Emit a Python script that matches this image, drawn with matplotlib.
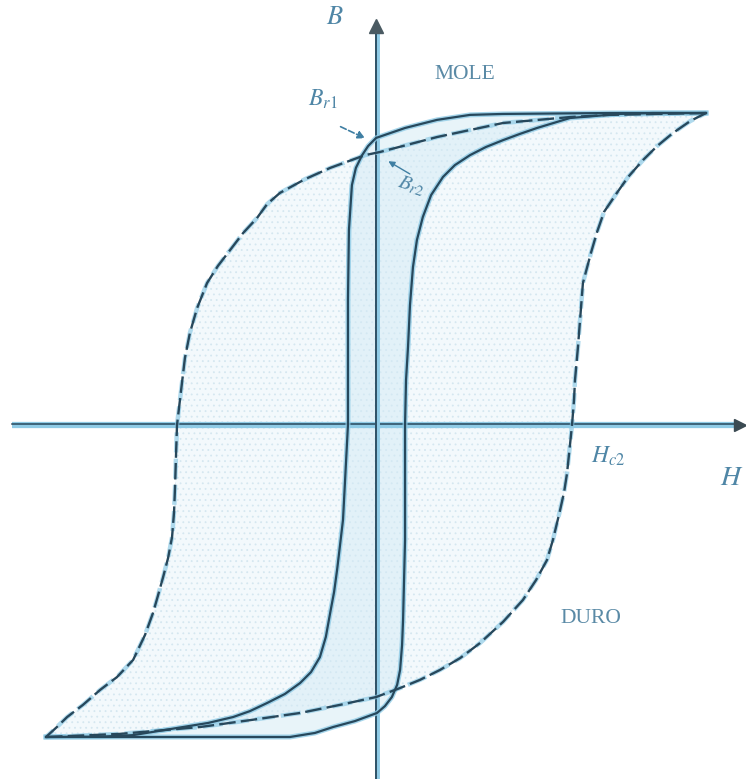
import matplotlib
matplotlib.use("Agg")
import matplotlib.pyplot as plt

plt.rcParams["mathtext.fontset"] = "stix"
plt.rcParams["font.family"] = ["Liberation Serif", "DejaVu Serif"]
plt.rcParams["hatch.linewidth"] = 0.6

# Hard magnetic material (dashed loop), field H and induction B, normalised to saturation
hard_desc_H = [1.00, 0.709, 0.588, 0.385, 0.185, 0.012, -0.033, -0.139, -0.215, -0.291,
               -0.330, -0.361, -0.403, -0.442, -0.479, -0.512, -0.542, -0.564, -0.579,
               -0.588, -0.603, -0.606, -0.609, -0.612, -0.618, -0.630, -0.645, -0.661,
               -0.676, -0.700, -0.736, -0.785, -0.836, -0.888, -0.936, -0.967, -1.00]
hard_desc_B = [1.00, 0.994, 0.987, 0.968, 0.923, 0.875, 0.865, 0.824, 0.788, 0.744,
               0.708, 0.663, 0.615, 0.561, 0.510, 0.455, 0.375, 0.295, 0.215,
               0.135, 0.0, -0.096, -0.199, -0.279, -0.359, -0.426, -0.487, -0.548,
               -0.603, -0.673, -0.753, -0.808, -0.849, -0.897, -0.936, -0.968, -1.00]
hard_asc_H = [-1.00, -0.776, -0.533, -0.382, -0.230, -0.109, 0.0, 0.073, 0.133, 0.194,
              0.255, 0.315, 0.385, 0.445, 0.485, 0.518, 0.536, 0.558, 0.570, 0.579,
              0.594, 0.600, 0.603, 0.612, 0.627, 0.652, 0.670, 0.691, 0.730, 0.764,
              0.809, 0.852, 0.900, 0.952, 1.00]
hard_asc_B = [-1.00, -0.990, -0.968, -0.946, -0.923, -0.897, -0.872, -0.843, -0.817, -0.785,
              -0.747, -0.699, -0.631, -0.561, -0.497, -0.433, -0.369, -0.272, -0.215, -0.154,
              0.0, 0.080, 0.144, 0.250, 0.455, 0.554, 0.619, 0.683, 0.744, 0.795,
              0.849, 0.894, 0.936, 0.974, 1.00]

# Soft magnetic material (solid loop)
soft_desc_H = [1.00, 0.709, 0.385, 0.285, 0.185, 0.088, 0.0, -0.024, -0.042, -0.061,
               -0.073, -0.082, -0.085, -0.085, -0.100, -0.109, -0.118, -0.127, -0.139,
               -0.152, -0.170, -0.197, -0.230, -0.276, -0.330, -0.382, -0.433, -0.509,
               -0.585, -0.736, -0.836, -1.00]
soft_desc_B = [1.00, 1.00, 0.997, 0.994, 0.978, 0.952, 0.920, 0.894, 0.865, 0.824,
               0.769, 0.625, 0.401, 0.0, -0.304, -0.385, -0.465, -0.535, -0.603,
               -0.679, -0.744, -0.792, -0.827, -0.862, -0.891, -0.917, -0.936, -0.955,
               -0.968, -0.994, -0.999, -1.00]
soft_asc_H = [-1.00, -0.685, -0.261, -0.185, -0.130, -0.064, 0.003, 0.027, 0.048, 0.064,
              0.073, 0.079, 0.082, 0.085, 0.088, 0.088, 0.091, 0.097, 0.103, 0.112,
              0.124, 0.142, 0.167, 0.203, 0.239, 0.285, 0.333, 0.385, 0.436, 0.488,
              0.588, 0.739, 0.839, 1.00]
soft_asc_B = [-1.00, -1.00, -1.00, -0.987, -0.968, -0.949, -0.923, -0.901, -0.872, -0.833,
              -0.785, -0.705, -0.625, -0.497, -0.369, 0.0, 0.144, 0.250, 0.385, 0.506,
              0.593, 0.667, 0.737, 0.795, 0.833, 0.865, 0.891, 0.913, 0.933, 0.952,
              0.984, 0.997, 1.00, 1.00]

labels = {"B": "$B$", "H": "$H$", "soft": "MOLE", "hard": "DURO",
          "br1": "$B_{r1}$", "br2": "$B_{r2}$", "hc2": "$H_{c2}$"}

LINE = "#27485c"
HALO = "#8fcbe6"
TEXT = "#4f86a6"

fig = plt.figure(figsize=(7.46, 7.79), dpi=100)
ax = fig.add_axes([0, 0, 1, 1])
ax.set_xlim(-1.1394, 1.1212)
ax.set_ylim(-1.1346, 1.3622)
ax.axis("off")

# Loop areas
hard_H = hard_desc_H + hard_asc_H
hard_B = hard_desc_B + hard_asc_B
soft_H = soft_desc_H + soft_asc_H
soft_B = soft_desc_B + soft_asc_B
ax.fill(hard_H, hard_B, facecolor="#f3f9fc", edgecolor="#d5e7f0", hatch="...",
        linewidth=0, zorder=1)
ax.fill(soft_H, soft_B, facecolor="#d3eaf5", alpha=0.5, linewidth=0, zorder=2)

# Coordinate axes
ax.plot([-1.103, 1.10], [0, 0], color=HALO, lw=4.5, solid_capstyle="butt", zorder=3)
ax.plot([-1.103, 1.10], [0.004, 0.004], color=LINE, lw=1.1, zorder=3)
ax.plot([0.003, 0.003], [-1.135, 1.27], color=HALO, lw=3.5, zorder=3)
ax.plot([0.0, 0.0], [-1.135, 1.27], color=LINE, lw=1.3, zorder=3)
ax.plot([1.103], [0], marker=">", ms=9, color="#3b4a52", zorder=4)
ax.plot([0.0], [1.278], marker="^", ms=10, color="#4a5a62", zorder=4)

# Hysteresis loops
for h, b in [(hard_desc_H, hard_desc_B), (hard_asc_H, hard_asc_B)]:
    ax.plot(h, b, color=HALO, lw=3.2, alpha=0.7, ls=(0, (4.5, 1.4)),
            solid_joinstyle="round", zorder=5)
    ax.plot(h, b, color=LINE, lw=1.7, ls=(0, (7, 2.2)), zorder=6)
for h, b in [(soft_desc_H, soft_desc_B), (soft_asc_H, soft_asc_B)]:
    ax.plot(h, b, color=HALO, lw=3.6, alpha=0.8, solid_joinstyle="round", zorder=5)
    ax.plot(h, b, color=LINE, lw=1.6, solid_joinstyle="round", zorder=6)

# Labels
ax.text(-0.125, 1.305, labels["B"], fontsize=19, color=TEXT, ha="center", va="center")
ax.text(1.078, -0.170, labels["H"], fontsize=20, color=TEXT, ha="center", va="center")
ax.text(0.268, 1.125, labels["soft"], fontsize=15.5, color="#5a8aa6", ha="center",
        va="center")
ax.text(0.650, -0.620, labels["hard"], fontsize=15.5, color="#5a8aa6", ha="center",
        va="center")
ax.text(-0.160, 1.045, labels["br1"], fontsize=17, color=TEXT, ha="center", va="center")
ax.text(0.105, 0.765, labels["br2"], fontsize=15, color=TEXT, ha="center", va="center",
        rotation=-18)
ax.text(0.705, -0.100, labels["hc2"], fontsize=17, color=TEXT, ha="center", va="center")

# Pointers to the remanence values
ax.annotate("", xy=(-0.025, 0.915), xytext=(-0.115, 0.960),
            arrowprops=dict(arrowstyle="-|>", color="#3f7fa3", lw=1.2, ls="--",
                            mutation_scale=11), zorder=7)
ax.annotate("", xy=(0.030, 0.850), xytext=(0.110, 0.800),
            arrowprops=dict(arrowstyle="-|>", color="#3f7fa3", lw=1.0,
                            mutation_scale=9), zorder=7)

fig.savefig("out.png", dpi=100)
